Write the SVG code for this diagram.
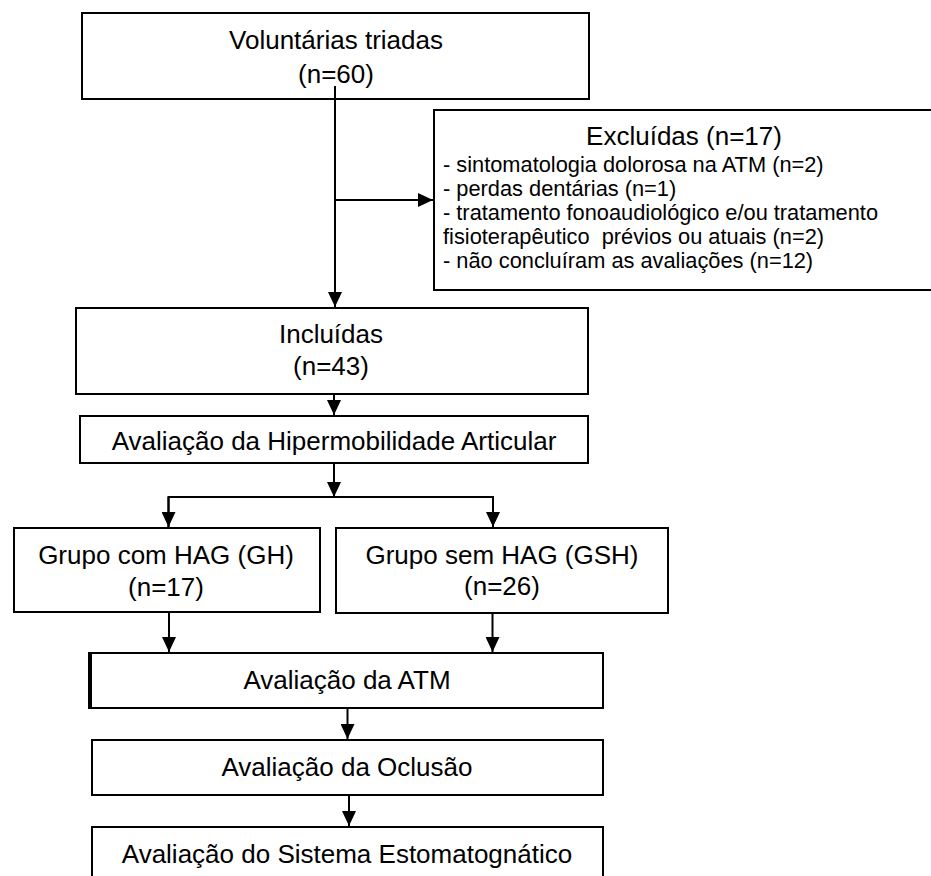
<svg xmlns="http://www.w3.org/2000/svg" width="931" height="876" viewBox="0 0 931 876">
<style>
.box{fill:#fff;stroke:#000;stroke-width:2}
.t{font-family:"Liberation Sans",Arial,sans-serif;font-size:26px;fill:#000;text-anchor:middle}
.s{font-family:"Liberation Sans",Arial,sans-serif;font-size:21.8px;fill:#000}
.c{fill:none;stroke:#000;stroke-width:2}
</style>
<defs>
<marker id="ah" markerUnits="userSpaceOnUse" markerWidth="15" markerHeight="14" refX="15" refY="7" orient="auto">
<path d="M0,0 L15,7 L0,14 Z" fill="#000"/>
</marker>
</defs>
<rect width="931" height="876" fill="#fff"/>
<g id="n-voluntarias">
<rect class="box" x="82" y="13" width="507" height="86"/>
<text class="t" x="336" y="49">Voluntárias triadas</text>
<text class="t" x="336" y="83">(n=60)</text>
</g>
<g id="n-excluidas">
<rect class="box" x="434" y="110" width="510" height="180"/>
<text class="t" x="684" y="145">Excluídas (n=17)</text>
<text class="s" x="443" y="172">- sintomatologia dolorosa na ATM (n=2)</text>
<text class="s" x="443" y="196">- perdas dentárias (n=1)</text>
<text class="s" x="443" y="219.5">- tratamento fonoaudiológico e/ou tratamento</text>
<text class="s" x="443" y="243.5" xml:space="preserve">fisioterapêutico  prévios ou atuais (n=2)</text>
<text class="s" x="443" y="268">- não concluíram as avaliações (n=12)</text>
</g>
<g id="n-incluidas">
<rect class="box" x="76" y="308" width="512" height="86"/>
<text class="t" x="331" y="343">Incluídas</text>
<text class="t" x="331" y="375">(n=43)</text>
</g>
<g id="n-hipermobilidade">
<rect class="box" x="80" y="416" width="508" height="47"/>
<text class="t" x="334" y="450">Avaliação da Hipermobilidade Articular</text>
</g>
<g id="n-gh">
<rect class="box" x="14" y="528" width="306" height="84"/>
<text class="t" x="166" y="564">Grupo com HAG (GH)</text>
<text class="t" x="166" y="596">(n=17)</text>
</g>
<g id="n-gsh">
<rect class="box" x="336" y="528" width="332" height="85"/>
<text class="t" x="502" y="564">Grupo sem HAG (GSH)</text>
<text class="t" x="502" y="595">(n=26)</text>
</g>
<g id="n-atm">
<rect class="box" x="90" y="653" width="513" height="55"/>
<line x1="90" y1="652" x2="90" y2="709" stroke="#000" stroke-width="4"/>
<text class="t" x="347" y="689">Avaliação da ATM</text>
</g>
<g id="n-oclusao">
<rect class="box" x="92" y="740" width="511" height="55"/>
<text class="t" x="347" y="776">Avaliação da Oclusão</text>
</g>
<g id="n-sistema">
<rect class="box" x="92" y="827" width="511" height="60"/>
<text class="t" x="347" y="863">Avaliação do Sistema Estomatognático</text>
</g>
<g id="connectors">
<line class="c" x1="335" y1="86" x2="335" y2="307" marker-end="url(#ah)"/>
<line class="c" x1="335" y1="200" x2="433" y2="200" marker-end="url(#ah)"/>
<line class="c" x1="334" y1="394" x2="334" y2="415" marker-end="url(#ah)"/>
<line class="c" x1="334" y1="463" x2="334" y2="497" marker-end="url(#ah)"/>
<polyline class="c" points="168.5,527 168.5,497 493,497 493,527"/>
<line class="c" x1="168.5" y1="497" x2="168.5" y2="527" marker-end="url(#ah)"/>
<line class="c" x1="493" y1="497" x2="493" y2="527" marker-end="url(#ah)"/>
<line class="c" x1="169" y1="612" x2="169" y2="652" marker-end="url(#ah)"/>
<line class="c" x1="492.5" y1="613" x2="492.5" y2="652" marker-end="url(#ah)"/>
<line class="c" x1="347.5" y1="708" x2="347.5" y2="739" marker-end="url(#ah)"/>
<line class="c" x1="349" y1="795" x2="349" y2="826" marker-end="url(#ah)"/>
</g>
</svg>
